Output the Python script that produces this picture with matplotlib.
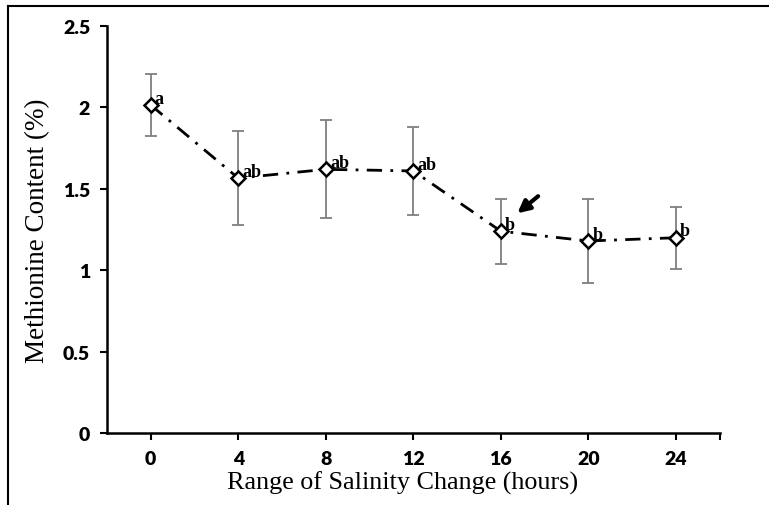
import numpy as np
import matplotlib
matplotlib.use("Agg")
import matplotlib.pyplot as plt
from matplotlib.lines import Line2D

hours = [0, 4, 8, 12, 16, 20, 24]
methionine = [2.015, 1.566, 1.62, 1.61, 1.24, 1.18, 1.20]
err = [0.19, 0.29, 0.30, 0.27, 0.20, 0.26, 0.19]
letters = ["a", "ab", "ab", "ab", "b", "b", "b"]
yticks = [0, 0.5, 1, 1.5, 2, 2.5]
yticklabels = ["0", "0.5", "1", "1.5", "2", "2.5"]

fig = plt.figure(figsize=(7.69, 5.06), dpi=100)
ax = fig.add_axes([0.139, 0.142, 0.797, 0.8046])

# gray error bars, drawn first
ax.errorbar(hours, methionine, yerr=err, fmt='none', ecolor='#7f7f7f',
            elinewidth=1.3, capsize=4, capthick=1.3, zorder=1)
# dash-dot line with white diamonds
ax.plot(hours, methionine, color='black', lw=2.0, linestyle=(0, (5.5, 3, 1, 3)),
        marker='D', markersize=7.5, markerfacecolor='white',
        markeredgecolor='black', markeredgewidth=1.8, zorder=3)

for x, y, t in zip(hours, methionine, letters):
    ax.annotate(t, (x, y), xytext=(3, 5), textcoords='offset points',
                ha='left', va='center', fontsize=13, fontweight='bold',
                family='Liberation Serif', zorder=4)

# arrow pointing at the 16 h point
ax.annotate('', xy=(16.75, 1.35), xytext=(17.7, 1.455),
            arrowprops=dict(arrowstyle='-|>', color='black', lw=3,
                            mutation_scale=18, shrinkA=0, shrinkB=0), zorder=5)

ax.set_xlim(-2, 26)
ax.set_ylim(0, 2.5)
ax.set_xticks(hours + [26])
ax.set_xticklabels([str(h) for h in hours] + [''])
ax.set_yticks(yticks)
ax.set_yticklabels(yticklabels)

for s in ['top', 'right']:
    ax.spines[s].set_visible(False)
for s in ['left', 'bottom']:
    ax.spines[s].set_linewidth(1.8)
ax.tick_params(axis='both', direction='out', length=5, width=1.5)
ax.tick_params(axis='x', pad=7)
ax.tick_params(axis='y', pad=7)
for lab in ax.get_xticklabels() + ax.get_yticklabels():
    lab.set_fontfamily('Lato')
    lab.set_fontweight('heavy')
    lab.set_fontsize(14)

ax.set_xlabel('Range of Salinity Change (hours)', family='Liberation Serif',
              fontsize=18.8, labelpad=3)
ax.xaxis.label.set_x(0.483)
ax.set_ylabel('Methionine Content (%)', family='Liberation Serif',
              fontsize=19.5, labelpad=9)

# outer frame (top and left edges only)
fig.add_artist(Line2D([0.0104, 1.0], [0.986, 0.986], color='black', lw=1.5,
                      transform=fig.transFigure))
fig.add_artist(Line2D([0.0104, 0.0104], [0.0, 0.986], color='black', lw=1.5,
                      transform=fig.transFigure))

fig.savefig('out.png', dpi=100)
